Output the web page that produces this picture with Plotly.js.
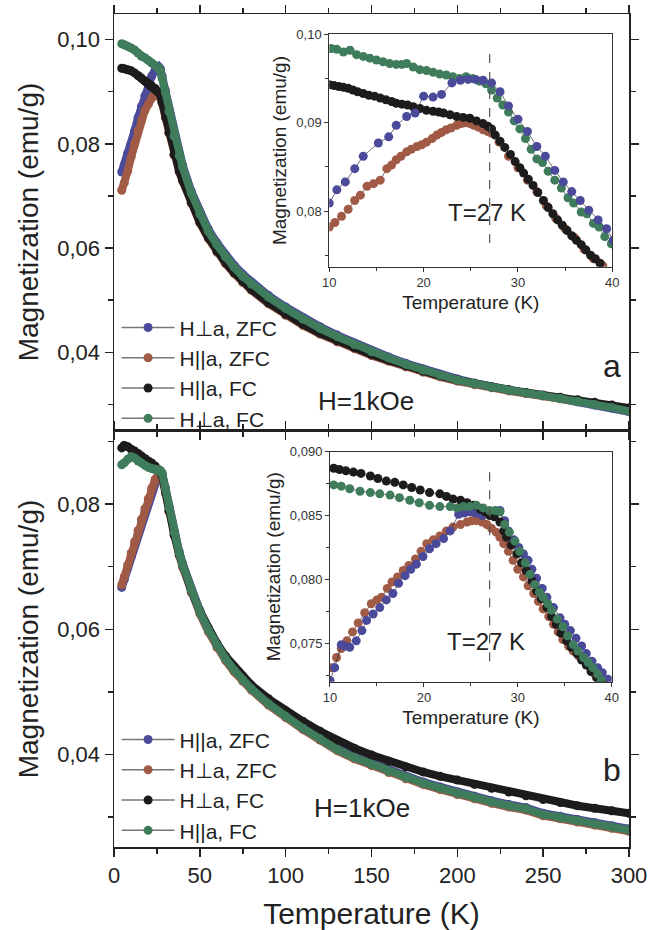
<!DOCTYPE html>
<html>
<head>
<meta charset="utf-8">
<script src="https://cdn.plot.ly/plotly-3.0.1.min.js"></script>
<style>html,body{margin:0;padding:0;background:#fff;}#chart{width:649px;height:930px;}</style>
</head>
<body>
<div id="chart"></div>
<script>
// ---------- Main panels: shared temperature grid (K) ----------
const T_main = [4.5, 6, 8, 10, 12, 14, 16, 18, 20, 22, 24, 26, 27, 28, 30, 32, 35, 38, 40, 45, 50, 55, 60, 65, 70, 75, 80, 90, 100, 110, 120, 130, 140, 150, 160, 170, 180, 190, 200, 210, 220, 230, 240, 250, 260, 270, 280, 290, 300];

// Panel a
const a_perp_zfc = [.0746,.0760,.0782,.0800,.0825,.0850,.0872,.0892,.0915,.0930,.0942,.0948,.0944,.0930,.0902,.0866,.0819,.0781,.0759,.0709,.0669,.0636,.0610,.0587,.0567,.0550,.0535,.0509,.0487,.0467,.0449,.0433,.0418,.0404,.0391,.0379,.0368,.0358,.0349,.0341,.0334,.0328,.0322,.0317,.0311,.0305,.0299,.0293,.0286];
const a_par_zfc  = [.0711,.0725,.0748,.0775,.0800,.0825,.0845,.0864,.0876,.0888,.0898,.0894,.0889,.0878,.0850,.0820,.0778,.0746,.0728,.0686,.0648,.0618,.0592,.0570,.0551,.0534,.0519,.0493,.0471,.0452,.0435,.0420,.0407,.0394,.0383,.0372,.0362,.0353,.0345,.0338,.0332,.0326,.0321,.0316,.0312,.0307,.0302,.0297,.0291];
const a_par_fc   = [.0945,.0944,.0942,.0940,.0936,.0931,.0926,.0921,.0916,.0911,.0906,.0900,.0894,.0880,.0852,.0822,.0780,.0748,.0730,.0688,.0650,.0620,.0594,.0572,.0553,.0536,.0521,.0495,.0473,.0454,.0437,.0422,.0409,.0396,.0385,.0374,.0364,.0355,.0347,.0340,.0334,.0328,.0323,.0318,.0314,.0309,.0304,.0299,.0293];
const a_perp_fc  = [.0992,.0990,.0987,.0984,.0980,.0974,.0968,.0965,.0960,.0955,.0950,.0946,.0940,.0926,.0898,.0862,.0815,.0777,.0755,.0705,.0665,.0632,.0606,.0583,.0563,.0546,.0531,.0506,.0484,.0464,.0446,.0430,.0415,.0401,.0389,.0377,.0366,.0356,.0347,.0340,.0333,.0327,.0322,.0317,.0312,.0306,.0300,.0294,.0287];

// Panel b
const b_par_zfc  = [.0667,.0680,.0698,.0716,.0734,.0752,.0770,.0788,.0805,.0822,.0837,.0848,.0850,.0849,.0826,.0797,.0757,.0724,.0705,.0664,.0630,.0601,.0576,.0555,.0537,.0521,.0507,.0483,.0463,.0444,.0427,.0410,.0397,.0386,.0375,.0365,.0356,.0348,.0340,.0333,.0326,.0320,.0315,.0306,.0301,.0296,.0291,.0286,.0281];
const b_perp_zfc = [.0671,.0684,.0703,.0722,.0740,.0758,.0776,.0793,.0809,.0826,.0840,.0847,.0846,.0842,.0817,.0788,.0750,.0718,.0699,.0659,.0625,.0596,.0571,.0550,.0532,.0517,.0503,.0479,.0459,.0440,.0423,.0406,.0393,.0382,.0371,.0361,.0352,.0344,.0336,.0329,.0322,.0316,.0311,.0302,.0297,.0292,.0287,.0282,.0277];
const b_perp_fc  = [.0890,.0894,.0892,.0888,.0885,.0881,.0877,.0873,.0869,.0866,.0861,.0855,.0851,.0846,.0820,.0790,.0752,.0720,.0702,.0662,.0629,.0601,.0577,.0557,.0540,.0525,.0511,.0489,.0470,.0453,.0437,.0422,.0410,.0399,.0389,.0380,.0372,.0365,.0359,.0352,.0346,.0340,.0334,.0328,.0323,.0318,.0314,.0310,.0306];
const b_par_fc   = [.0863,.0866,.0872,.0876,.0874,.0869,.0866,.0862,.0859,.0857,.0856,.0855,.0854,.0850,.0825,.0795,.0755,.0722,.0703,.0662,.0628,.0599,.0574,.0553,.0535,.0519,.0505,.0481,.0461,.0442,.0425,.0408,.0395,.0384,.0373,.0363,.0354,.0346,.0338,.0331,.0324,.0318,.0313,.0304,.0299,.0294,.0289,.0284,.0279];

// ---------- Inset a (10-40 K) ----------
const ia_perp_zfc_T = [10,10.8,11.7,12.7,13.6,15.2,16.3,17.1,18.2,19.1,20,21,21.9,23,23.9,24.7,25.5,26.3,27.2,28.1,29,30,31,32,32.9,33.9,34.8,35.7,36.6,37.5,38.5,39.4,40.1];
const ia_perp_zfc   = [.0809,.0824,.0833,.0848,.0862,.0877,.0884,.0897,.0907,.0911,.0930,.0929,.0932,.0945,.0948,.0949,.0949,.0948,.0945,.0935,.0919,.0904,.0890,.0873,.0862,.0846,.0833,.0822,.0812,.0801,.0790,.0780,.0767];
const ia_par_zfc_T  = [10,10.6,11.3,12,12.7,13.3,14,14.7,15.4,16.1,16.6,17.1,17.6,18.2,18.7,19.3,19.8,20.3,20.9,21.4,21.9,22.4,22.9,23.5,24,24.4,24.9,25.3,25.8,26.3,26.8,27.2,28,29,30,31,32,33,34,35,36,37,38,39];
const ia_par_zfc    = [.0782,.0787,.0794,.0802,.0812,.0818,.0828,.0831,.0835,.0848,.0852,.0858,.0862,.0867,.0870,.0873,.0875,.0878,.0882,.0886,.0889,.0892,.0894,.0897,.0899,.0900,.0899,.0897,.0895,.0892,.0890,.0888,.0878,.0862,.0849,.0835,.0822,.0806,.0792,.0780,.0770,.0757,.0746,.0738];
const ia_par_fc_T   = [10,10.5,11,11.5,12,12.5,13,13.6,14.2,14.8,15.4,16,16.6,17.1,17.7,18.3,18.9,19.6,20.3,21,21.6,22.1,22.8,23.5,24.2,24.9,25.6,26.3,26.8,27.2,27.6,28.1,28.6,29.2,29.7,30.2,30.6,31.1,31.6,32.1,32.7,33.2,33.7,34.2,34.7,35.2,35.7,36.2,36.7,37.2,37.7,38.2,38.7];
const ia_par_fc     = [.0943,.0942,.0941,.0940,.0939,.0937,.0935,.0933,.0931,.0930,.0928,.0926,.0924,.0922,.0921,.0920,.0918,.0916,.0914,.0913,.0912,.0911,.0909,.0907,.0906,.0905,.0902,.0899,.0896,.0893,.0886,.0879,.0872,.0864,.0856,.0849,.0843,.0836,.0829,.0821,.0812,.0804,.0797,.0790,.0784,.0778,.0772,.0767,.0762,.0756,.0750,.0746,.0741];
const ia_perp_fc_T  = [10.2,10.8,11.5,12.2,12.9,13.6,14.3,15,15.7,16.4,17.1,17.7,18.2,18.9,19.6,20.3,21,21.7,22.4,23.1,23.8,24.5,25.2,25.9,26.6,27.2,27.8,28.4,29,29.6,30.2,30.8,31.4,32,32.6,33.2,33.9,34.6,35.3,35.9,36.7,37.3,38,38.6,39.2,39.9];
const ia_perp_fc    = [.0984,.0983,.0980,.0982,.0977,.0975,.0973,.0971,.0969,.0967,.0966,.0966,.0967,.0963,.0960,.0959,.0957,.0955,.0954,.0952,.0950,.0952,.0950,.0947,.0944,.0937,.0928,.0920,.0912,.0902,.0893,.0882,.0870,.0859,.0855,.0845,.0835,.0826,.0815,.0809,.0799,.0797,.0786,.0782,.0771,.0763];

// ---------- Inset b (10-40 K) ----------
const ib_par_zfc_T  = [10,10.5,11.2,11.6,12.1,12.8,13.4,13.9,14.6,15.3,16,16.7,17.3,18,18.6,19.2,19.9,20.6,21.3,22.1,22.8,23.7,24.3,24.9,25.5,26.2,27.4,28.1,28.6,29,29.6,30.1,30.6,31.1,31.5,32,32.6,33.1,33.8,34.5,35,35.6,36.2,36.8,37.3,37.9,38.5,39,39.6];
const ib_par_zfc    = [.0721,.0731,.0749,.0748,.0747,.0752,.0760,.0768,.0773,.0778,.0784,.0789,.0797,.0803,.0808,.0812,.0818,.0824,.0828,.0832,.0838,.0851,.0852,.0853,.0852,.0850,.0852,.0854,.0846,.0838,.0831,.0825,.0820,.0815,.0808,.0801,.0793,.0786,.0778,.0770,.0765,.0760,.0754,.0748,.0742,.0736,.0731,.0727,.0722];
const ib_perp_zfc_T = [10.2,10.7,11.2,11.8,12.4,13,13.7,14.4,15,15.5,16.1,16.6,17.2,17.8,18.4,19.1,19.7,20.3,21,21.7,22.4,23.1,23.9,24.6,25.1,25.6,26.2,26.7,27.2,27.7,28.1,28.5,29,29.5,30,30.6,31.1,31.7,32.2,32.7,33.3,33.8,34.3,34.8,35.4,35.9,36.5,37.2,37.7,38.2,38.7,39.1];
const ib_perp_zfc   = [.0731,.0739,.0746,.0752,.0759,.0766,.0774,.0781,.0784,.0786,.0793,.0798,.0802,.0807,.0811,.0816,.0822,.0828,.0831,.0834,.0838,.0841,.0843,.0845,.0846,.0846,.0845,.0843,.0840,.0837,.0833,.0828,.0822,.0815,.0808,.0802,.0795,.0789,.0783,.0777,.0771,.0765,.0759,.0753,.0748,.0744,.0740,.0736,.0731,.0726,.0723,.0721];
const ib_perp_fc_T  = [10.4,11,11.7,12.5,13.3,14.3,15.1,16,16.9,17.8,18.7,19.6,20.6,21.7,22.4,23.1,23.9,24.6,25.3,26,26.5,27,27.5,28.1,28.5,28.8,29.3,29.9,30.4,30.9,31.5,32,32.5,33.1,33.6,34.1,34.6,35.2,35.7,36.3,36.8,37.3,37.8,38.4,39.1];
const ib_perp_fc    = [.0887,.0886,.0885,.0884,.0883,.0881,.0879,.0877,.0876,.0874,.0872,.0870,.0868,.0867,.0865,.0863,.0862,.0860,.0858,.0855,.0853,.0850,.0849,.0845,.0838,.0833,.0827,.0820,.0813,.0807,.0799,.0791,.0785,.0778,.0771,.0765,.0758,.0752,.0747,.0742,.0737,.0733,.0728,.0723,.0718];
const ib_par_fc_T   = [10.4,11.2,12.1,13.2,14.3,15.3,16.4,17.4,18.5,19.5,20.6,21.7,22.8,23.5,24.2,24.9,25.6,26.3,27,27.6,28.1,28.6,29.1,29.7,30.2,30.8,31.3,31.8,32.3,32.7,33.2,33.6,34.2,34.8,35.3,35.9,36.4,37,37.5,38,38.5,38.9];
const ib_par_fc     = [.0874,.0873,.0871,.0869,.0868,.0867,.0866,.0864,.0862,.0860,.0858,.0857,.0857,.0856,.0857,.0857,.0858,.0856,.0854,.0854,.0853,.0843,.0837,.0830,.0822,.0813,.0804,.0796,.0790,.0786,.0781,.0776,.0769,.0763,.0756,.0749,.0744,.0739,.0735,.0731,.0726,.0721];

// Labels
const LBL_PERP_ZFC = "H\u22A5a, ZFC";
const LBL_PAR_ZFC  = "H||a, ZFC";
const LBL_PAR_FC   = "H||a, FC";
const LBL_PERP_FC  = "H\u22A5a, FC";
const TC = 27;              // transition marker line
const TC_SPAN_A = [0.0764, 0.0982];
const TC_SPAN_B = [0.0736, 0.0887];

// Colours
const C_BLUE = "#4b4a9a", C_BROWN = "#a05a45", C_BLACK = "#1d1b1b", C_GREEN = "#3f7c5c";
const FONT = "Liberation Sans, Arial, sans-serif";

function band(x, y, color, xa, ya) {
  return {x: x, y: y, xaxis: xa, yaxis: ya, type: "scatter", mode: "lines+markers",
    line: {color: color, width: 8}, marker: {color: color, size: 9}, showlegend: false, hoverinfo: "skip"};
}
function dots(x, y, color, xa, ya) {
  return {x: x, y: y, xaxis: xa, yaxis: ya, type: "scatter", mode: "lines+markers",
    line: {color: "#333", width: 0.7}, marker: {color: color, size: 9}, showlegend: false, hoverinfo: "skip"};
}
function leg(name, color, legend, rank) {
  return {x: [null], y: [null], xaxis: "x2", yaxis: "y2", type: "scatter", mode: "lines+markers",
    name: name, legend: legend, legendrank: rank,
    line: {color: "#777", width: 1.5}, marker: {color: color, size: 9}};
}

const traces = [
  // panel a (top)
  band(T_main, a_perp_zfc, C_BLUE, "x2", "y2"),
  band(T_main, a_par_zfc, C_BROWN, "x2", "y2"),
  band(T_main, a_par_fc, C_BLACK, "x2", "y2"),
  band(T_main, a_perp_fc, C_GREEN, "x2", "y2"),
  // panel b (bottom)
  band(T_main, b_par_zfc, C_BLUE, "x", "y"),
  band(T_main, b_perp_zfc, C_BROWN, "x", "y"),
  band(T_main, b_perp_fc, C_BLACK, "x", "y"),
  band(T_main, b_par_fc, C_GREEN, "x", "y"),
  // inset a
  dots(ia_par_zfc_T, ia_par_zfc, C_BROWN, "x3", "y3"),
  dots(ia_par_fc_T, ia_par_fc, C_BLACK, "x3", "y3"),
  dots(ia_perp_fc_T, ia_perp_fc, C_GREEN, "x3", "y3"),
  dots(ia_perp_zfc_T, ia_perp_zfc, C_BLUE, "x3", "y3"),
  // inset b
  dots(ib_perp_zfc_T, ib_perp_zfc, C_BROWN, "x4", "y4"),
  dots(ib_par_zfc_T, ib_par_zfc, C_BLUE, "x4", "y4"),
  dots(ib_perp_fc_T, ib_perp_fc, C_BLACK, "x4", "y4"),
  dots(ib_par_fc_T, ib_par_fc, C_GREEN, "x4", "y4"),
  // legends
  leg(LBL_PERP_ZFC, C_BLUE, "legend", 1),
  leg(LBL_PAR_ZFC, C_BROWN, "legend", 2),
  leg(LBL_PAR_FC, C_BLACK, "legend", 3),
  leg(LBL_PERP_FC, C_GREEN, "legend", 4),
  leg(LBL_PAR_ZFC, C_BLUE, "legend2", 1),
  leg(LBL_PERP_ZFC, C_BROWN, "legend2", 2),
  leg(LBL_PERP_FC, C_BLACK, "legend2", 3),
  leg(LBL_PAR_FC, C_GREEN, "legend2", 4)
];

const mainAx = {showline: true, linecolor: "#222", linewidth: 1.5, mirror: "ticks", ticks: "outside",
  ticklen: 8, tickwidth: 1.5, tickcolor: "#222", showgrid: false, zeroline: false,
  tickfont: {size: 22, color: "#222", family: FONT}};
const insetAx = {showline: true, linecolor: "#333", linewidth: 1, mirror: true, ticks: "outside",
  ticklen: 4, tickwidth: 1, tickcolor: "#333", showgrid: false, zeroline: false,
  tickfont: {size: 13, color: "#333", family: FONT}};

function ann(text, x, y, size) {
  return {text: text, xref: "paper", yref: "paper", x: x, y: y, xanchor: "center", yanchor: "middle",
    showarrow: false, font: {size: size, family: FONT, color: "#222"}};
}

const layout = {
  width: 649, height: 930,
  margin: {l: 114, r: 20, t: 14, b: 83},
  paper_bgcolor: "#fff", plot_bgcolor: "#fff",
  separators: ",.",
  font: {family: FONT, color: "#222"},
  xaxis: Object.assign({}, mainAx, {domain: [0, 1], anchor: "y", range: [0, 300], dtick: 50, tick0: 0,
    minor: {dtick: 25, ticks: "outside", ticklen: 5, tickcolor: "#222"},
    title: {text: "Temperature (K)", font: {size: 30, family: FONT, color: "#222"}, standoff: 18}}),
  yaxis: Object.assign({}, mainAx, {domain: [0, 0.4994], anchor: "x", range: [0.0252, 0.0917], dtick: 0.02, tick0: 0,
    tickformat: ".2f", minor: {dtick: 0.01, ticks: "outside", ticklen: 5, tickcolor: "#222"},
    title: {text: "Magnetization (emu/g)", font: {size: 28, family: FONT, color: "#222"}, standoff: 10}}),
  xaxis2: Object.assign({}, mainAx, {domain: [0, 1], anchor: "y2", range: [0, 300], dtick: 50, tick0: 0,
    showticklabels: false, minor: {dtick: 25, ticks: "outside", ticklen: 5, tickcolor: "#222"}}),
  yaxis2: Object.assign({}, mainAx, {domain: [0.5006, 1], anchor: "x2", range: [0.0251, 0.1049], dtick: 0.02, tick0: 0,
    tickformat: ".2f", minor: {dtick: 0.01, ticks: "outside", ticklen: 5, tickcolor: "#222"},
    title: {text: "Magnetization (emu/g)", font: {size: 28, family: FONT, color: "#222"}, standoff: 10}}),
  xaxis3: Object.assign({}, insetAx, {domain: [0.418, 0.9676], anchor: "y3", range: [10, 40], dtick: 10,
    minor: {dtick: 5, ticks: "outside", ticklen: 3, tickcolor: "#333"},
    title: {text: "Temperature (K)", font: {size: 19, family: FONT, color: "#222"}, standoff: 6}}),
  yaxis3: Object.assign({}, insetAx, {domain: [0.6966, 0.9756], anchor: "x3", range: [0.0737, 0.100], dtick: 0.01, tick0: 0,
    tickformat: ".2f", minor: {dtick: 0.005, ticks: "outside", ticklen: 3, tickcolor: "#333"},
    title: {text: "Magnetization (emu/g)", font: {size: 19, family: FONT, color: "#222"}, standoff: 4}}),
  xaxis4: Object.assign({}, insetAx, {domain: [0.4194, 0.9664], anchor: "y4", range: [10, 40], dtick: 10,
    minor: {dtick: 5, ticks: "outside", ticklen: 3, tickcolor: "#333"},
    title: {text: "Temperature (K)", font: {size: 19, family: FONT, color: "#222"}, standoff: 6}}),
  yaxis4: Object.assign({}, insetAx, {domain: [0.1984, 0.4746], anchor: "x4", range: [0.0720, 0.090], dtick: 0.005, tick0: 0,
    tickformat: ".3f", minor: {dtick: 0.0025, ticks: "outside", ticklen: 3, tickcolor: "#333"},
    title: {text: "Magnetization (emu/g)", font: {size: 19, family: FONT, color: "#222"}, standoff: 4}}),
  legend: {x: 0.005, xanchor: "left", y: 0.6479, yanchor: "top", bgcolor: "rgba(0,0,0,0)",
    font: {size: 21, family: FONT, color: "#222"}, tracegroupgap: 0, itemwidth: 53},
  legend2: {x: 0.005, xanchor: "left", y: 0.1533, yanchor: "top", bgcolor: "rgba(0,0,0,0)",
    font: {size: 21, family: FONT, color: "#222"}, tracegroupgap: 0, itemwidth: 53},
  shapes: [
    {type: "line", xref: "x3", yref: "y3", x0: TC, x1: TC, y0: TC_SPAN_A[0], y1: TC_SPAN_A[1],
      line: {color: "#555", width: 1.2, dash: "dash"}},
    {type: "line", xref: "x4", yref: "y4", x0: TC, x1: TC, y0: TC_SPAN_B[0], y1: TC_SPAN_B[1],
      line: {color: "#555", width: 1.2, dash: "dash"}}
  ],
  annotations: [
    ann("H=1kOe", 0.489, 0.5354, 26),
    ann("a", 0.967, 0.577, 32),
    ann("H=1kOe", 0.4816, 0.0468, 26),
    ann("b", 0.967, 0.093, 32),
    ann("T=27 K", 0.7243, 0.7623, 24),
    ann("T=27 K", 0.7223, 0.2461, 24)
  ]
};

Plotly.newPlot("chart", traces, layout, {displayModeBar: false, staticPlot: true});
</script>
</body>
</html>
